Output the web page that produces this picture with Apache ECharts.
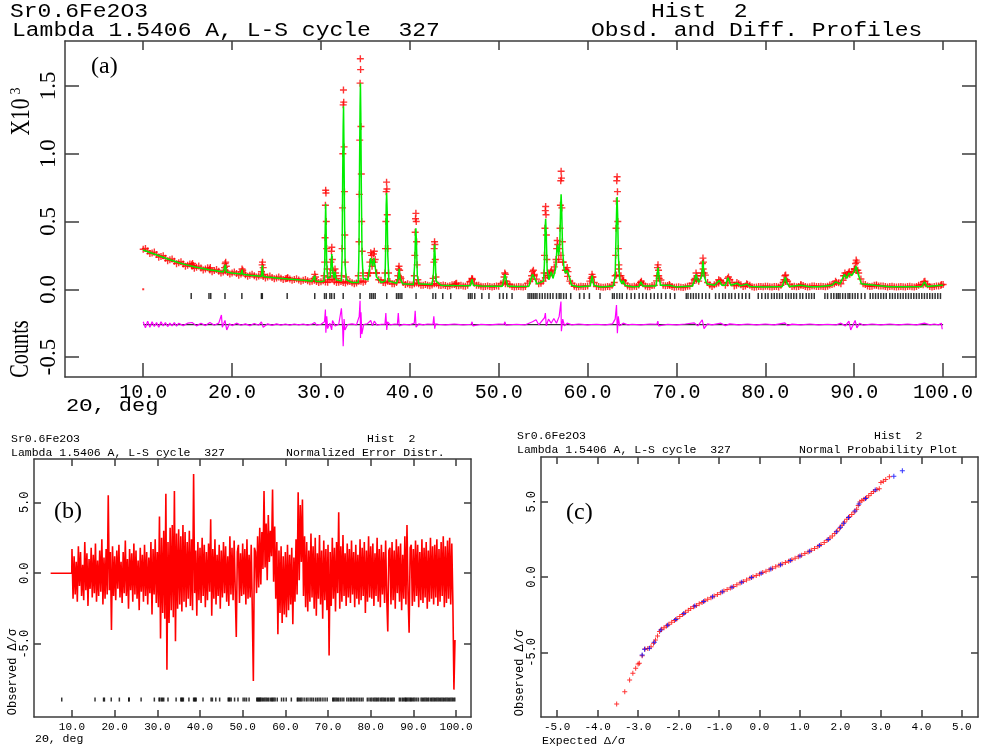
<!DOCTYPE html>
<html>
<head>
<meta charset="utf-8">
<title>Sr0.6Fe2O3 - GSAS refinement plots</title>
<script src="https://cdn.jsdelivr.net/npm/echarts@6/dist/echarts.min.js"></script>
<style>
html, body { margin: 0; padding: 0; background: #fff; }
#chart { width: 989px; height: 748px; }
</style>
</head>
<body>
<div id="chart"></div>
<script>
// ---- panel (a): observed / calculated / difference profiles ----
// observed background band, 10.0 .. 100.0 deg, every 0.5 deg
const obsStart = 10, obsStep = 0.5;
const bgObs = [
  0.295,0.282,0.268,0.256,0.242,0.228,0.218,0.206,0.196,0.186,
  0.178,0.170,0.163,0.156,0.150,0.143,0.138,0.133,0.128,0.124,
  0.120,0.116,0.112,0.108,0.104,0.100,0.097,0.094,0.090,0.087,
  0.084,0.081,0.078,0.075,0.072,0.069,0.066,0.063,0.060,0.058,
  0.056,0.054,0.070,0.060,0.052,0.050,0.055,0.048,0.046,0.060,
  0.060,0.120,0.200,0.070,0.050,0.060,0.040,0.050,0.080,0.035,
  0.033,0.040,0.040,0.030,0.030,0.032,0.040,0.028,0.027,0.026,
  0.035,0.026,0.025,0.030,0.070,0.030,0.022,0.021,0.021,0.020,
  0.022,0.050,0.040,0.020,0.018,0.018,0.020,0.060,0.100,0.040,
  0.060,0.100,0.120,0.200,0.250,0.140,0.060,0.022,0.018,0.020,
  0.025,0.090,0.020,0.017,0.016,0.018,0.050,0.150,0.060,0.025,
  0.018,0.020,0.050,0.025,0.018,0.030,0.100,0.030,0.028,0.020,
  0.016,0.015,0.016,0.025,0.070,0.060,0.150,0.050,0.020,0.040,
  0.060,0.030,0.070,0.025,0.040,0.020,0.035,0.018,0.016,0.020,
  0.022,0.018,0.020,0.017,0.050,0.060,0.020,0.018,0.030,0.020,
  0.018,0.025,0.020,0.020,0.022,0.035,0.050,0.040,0.100,0.110,
  0.150,0.120,0.040,0.025,0.022,0.030,0.025,0.020,0.020,0.019,
  0.018,0.018,0.020,0.019,0.020,0.035,0.040,0.020,0.020,0.025,
  0.035
];
// in-between observed points, 10.25 .. 99.75 deg (the scatter of the band)
const obsStart2 = 10.25;
const bgObs2 = [
  0.301,0.263,0.274,0.237,0.247,0.211,0.224,0.189,0.203,0.170,
  0.186,0.155,0.171,0.142,0.158,0.130,0.146,0.120,0.136,0.112,
  0.128,0.104,0.120,0.096,0.111,0.090,0.104,0.084,0.097,0.077,
  0.090,0.072,0.084,0.066,0.078,0.060,0.072,0.055,0.066,0.050,
  0.062,0.052,0.072,0.050,0.058,0.046,0.058,0.041,0.060,0.052,
  0.100,0.170,0.120,0.066,0.048,0.057,0.040,0.070,0.050,0.040,
  0.032,0.046,0.030,0.035,0.026,0.041,0.029,0.032,0.022,0.034,
  0.026,0.030,0.023,0.055,0.045,0.030,0.018,0.025,0.017,0.024,
  0.040,0.040,0.034,0.016,0.021,0.016,0.045,0.075,0.075,0.045,
  0.085,0.105,0.165,0.220,0.200,0.095,0.045,0.017,0.022,0.020,
  0.060,0.050,0.021,0.014,0.020,0.030,0.105,0.100,0.045,0.019,
  0.022,0.031,0.040,0.018,0.027,0.062,0.068,0.026,0.027,0.015,
  0.018,0.013,0.023,0.044,0.068,0.100,0.104,0.031,0.033,0.047,
  0.048,0.046,0.051,0.029,0.033,0.024,0.029,0.014,0.021,0.018,
  0.023,0.016,0.021,0.030,0.058,0.036,0.022,0.021,0.028,0.016,
  0.024,0.020,0.023,0.018,0.031,0.040,0.048,0.067,0.108,0.127,
  0.138,0.076,0.035,0.021,0.029,0.024,0.025,0.017,0.022,0.016,
  0.020,0.016,0.022,0.017,0.030,0.034,0.033,0.017,0.025,0.027
];
// observed points on the Bragg peaks [2theta, counts x10^3]
const peakObs = [
  [15.45,0.18],[15.55,0.19],[15.65,0.175],[17.45,0.15],[17.55,0.16],
  [19.15,0.16],[19.22,0.19],[19.28,0.2],[19.35,0.17],
  [21.05,0.13],[21.12,0.15],[21.2,0.14],
  [23.3,0.13],[23.38,0.18],[23.42,0.2],[23.5,0.16],[23.58,0.11],
  [26.15,0.08],[26.25,0.085],[29.22,0.08],[29.3,0.11],[29.38,0.09],
  [30.35,0.1],[30.42,0.2],[30.46,0.38],[30.5,0.62],[30.53,0.73],[30.56,0.71],[30.6,0.5],[30.64,0.3],[30.7,0.15],[30.78,0.09],
  [31.05,0.12],[31.12,0.2],[31.18,0.28],[31.22,0.31],[31.28,0.22],[31.35,0.14],
  [31.5,0.1],[31.58,0.15],[31.65,0.12],[31.75,0.08],
  [32.3,0.1],[32.38,0.3],[32.42,0.6],[32.46,1.0],[32.5,1.36],[32.53,1.47],[32.56,1.38],[32.6,1.05],[32.64,0.72],[32.68,0.4],[32.74,0.2],[32.82,0.09],
  [34.2,0.1],[34.28,0.35],[34.32,0.7],[34.36,1.1],[34.4,1.52],[34.43,1.7],[34.46,1.62],[34.5,1.2],[34.54,0.85],[34.58,0.5],[34.64,0.28],[34.72,0.12],
  [35.4,0.12],[35.5,0.2],[35.6,0.27],[35.7,0.25],[35.8,0.2],[35.9,0.26],[36.0,0.28],[36.1,0.22],[36.25,0.12],
  [37.2,0.12],[37.26,0.3],[37.3,0.5],[37.34,0.72],[37.38,0.79],[37.42,0.74],[37.46,0.55],[37.52,0.3],[37.6,0.12],
  [38.65,0.1],[38.72,0.15],[38.78,0.17],[38.85,0.14],[38.95,0.09],
  [40.5,0.1],[40.56,0.25],[40.6,0.42],[40.64,0.52],[40.68,0.56],[40.72,0.5],[40.76,0.35],[40.82,0.18],[40.9,0.07],
  [42.62,0.08],[42.7,0.2],[42.74,0.3],[42.78,0.35],[42.82,0.33],[42.86,0.22],[42.94,0.09],
  [45.15,0.04],[45.25,0.045],[46.9,0.06],[46.98,0.08],[47.05,0.075],
  [50.6,0.09],[50.68,0.12],[50.75,0.11],[50.85,0.06],
  [53.7,0.1],[53.8,0.13],[53.9,0.14],[54.0,0.11],
  [55.1,0.12],[55.15,0.25],[55.2,0.45],[55.24,0.58],[55.28,0.61],[55.32,0.55],[55.36,0.4],[55.42,0.22],[55.5,0.12],
  [55.85,0.13],[55.95,0.14],[56.45,0.22],[56.52,0.3],[56.58,0.36],[56.64,0.33],
  [56.85,0.3],[56.9,0.45],[56.94,0.62],[56.98,0.8],[57.02,0.87],[57.06,0.82],[57.1,0.6],[57.16,0.35],[57.24,0.2],
  [57.6,0.14],[57.7,0.16],[57.8,0.13],[60.4,0.08],[60.5,0.11],[60.6,0.09],
  [63.1,0.1],[63.16,0.25],[63.2,0.45],[63.24,0.65],[63.28,0.8],[63.32,0.83],[63.36,0.72],[63.4,0.5],[63.46,0.3],[63.52,0.18],[63.6,0.1],
  [63.95,0.07],[64.05,0.065],[65.95,0.05],[66.05,0.06],
  [67.8,0.1],[67.86,0.16],[67.92,0.18],[67.98,0.14],[68.06,0.08],[69.2,0.035],
  [72.1,0.08],[72.2,0.12],[72.3,0.1],[72.85,0.12],[72.92,0.19],[72.98,0.23],[73.04,0.2],[73.12,0.12],
  [74.75,0.07],[74.9,0.065],[75.75,0.08],[75.85,0.09],[76.8,0.05],[77.9,0.04],
  [82.1,0.07],[82.2,0.1],[82.28,0.105],[82.36,0.07],[84.0,0.035],[87.9,0.06],
  [88.8,0.1],[88.95,0.12],[89.35,0.12],[89.45,0.13],
  [90.05,0.15],[90.15,0.19],[90.22,0.215],[90.3,0.2],[90.4,0.14],
  [92.5,0.032],[97.85,0.055],[97.95,0.06],[99.8,0.035]
];
const strayObs = [[10.0, 0.0]];
// calculated profile (green)
const calcPts = [
  [10,0.29],[11,0.266],[12,0.242],[13,0.218],[14,0.196],[15,0.178],[15.4,0.171],[15.5,0.185],[15.62,0.168],[16,0.163],
  [17,0.15],[17.4,0.144],[17.5,0.155],[17.6,0.142],[18,0.138],[19,0.128],[19.15,0.128],[19.25,0.182],[19.35,0.127],[20,0.12],
  [21,0.112],[21.05,0.111],[21.12,0.145],[21.2,0.11],[22,0.104],[23,0.097],[23.3,0.096],[23.4,0.176],[23.5,0.094],[24,0.09],
  [25,0.084],[26,0.078],[26.15,0.077],[26.22,0.083],[26.3,0.076],[27,0.072],[28,0.066],[29,0.06],[29.22,0.06],[29.3,0.1],
  [29.38,0.059],[30,0.056],[30.35,0.06],[30.42,0.18],[30.48,0.45],[30.53,0.63],[30.58,0.45],[30.64,0.2],[30.75,0.08],
  [31.05,0.09],[31.15,0.2],[31.22,0.26],[31.3,0.15],[31.45,0.08],[31.58,0.13],[31.7,0.07],
  [32.3,0.06],[32.38,0.25],[32.44,0.8],[32.5,1.2],[32.54,1.35],[32.58,1.1],[32.64,0.6],[32.72,0.18],[32.85,0.07],[33.5,0.05],
  [34.2,0.05],[34.28,0.3],[34.34,0.9],[34.4,1.35],[34.44,1.52],[34.48,1.3],[34.54,0.75],[34.62,0.25],[34.75,0.08],
  [35.3,0.07],[35.5,0.17],[35.6,0.23],[35.72,0.2],[35.82,0.17],[35.95,0.23],[36.05,0.19],[36.25,0.09],[36.8,0.05],
  [37.2,0.06],[37.28,0.3],[37.34,0.62],[37.39,0.71],[37.44,0.6],[37.52,0.25],[37.65,0.06],
  [38.5,0.045],[38.7,0.08],[38.8,0.15],[38.9,0.08],[39.2,0.04],
  [40.4,0.035],[40.56,0.2],[40.63,0.4],[40.68,0.45],[40.74,0.35],[40.84,0.1],[41,0.04],
  [42.5,0.035],[42.66,0.12],[42.74,0.28],[42.79,0.33],[42.85,0.24],[42.95,0.06],[43.5,0.03],[44,0.028],
  [45.1,0.027],[45.2,0.04],[45.3,0.027],[46.8,0.026],[46.98,0.075],[47.15,0.03],[48,0.024],[49,0.022],
  [50.4,0.022],[50.6,0.08],[50.7,0.11],[50.8,0.08],[51,0.025],[52,0.02],
  [53.4,0.022],[53.6,0.07],[53.8,0.11],[53.9,0.12],[54.05,0.08],[54.3,0.04],
  [55.05,0.06],[55.15,0.2],[55.22,0.45],[55.28,0.52],[55.34,0.42],[55.45,0.14],[55.65,0.07],[55.9,0.13],[56.1,0.08],
  [56.4,0.15],[56.55,0.3],[56.62,0.33],[56.75,0.25],[56.88,0.35],[56.96,0.6],[57.02,0.7],[57.08,0.6],[57.18,0.3],
  [57.35,0.15],[57.5,0.12],[57.7,0.14],[57.9,0.1],[58.2,0.03],[59,0.018],
  [60.3,0.025],[60.5,0.1],[60.7,0.03],[61.5,0.017],[62.9,0.025],
  [63.1,0.1],[63.2,0.4],[63.27,0.6],[63.32,0.68],[63.38,0.55],[63.46,0.25],[63.6,0.08],[63.85,0.04],[64.0,0.065],[64.2,0.03],
  [65,0.018],[65.8,0.02],[66.0,0.055],[66.2,0.025],[67.7,0.025],[67.85,0.12],[67.93,0.16],[68.02,0.1],[68.2,0.03],[69.2,0.03],
  [70,0.016],[71.8,0.025],[72.05,0.07],[72.2,0.11],[72.35,0.07],[72.5,0.05],[72.85,0.1],[72.98,0.21],[73.1,0.1],[73.4,0.04],
  [74.3,0.03],[74.8,0.065],[75.1,0.03],[75.5,0.03],[75.8,0.085],[76.1,0.03],[76.8,0.045],[77.2,0.025],[77.9,0.038],[78.3,0.02],
  [80,0.017],[81.9,0.02],[82.1,0.06],[82.25,0.09],[82.4,0.05],[82.7,0.02],[84,0.03],[85,0.018],[86,0.019],
  [87.5,0.03],[87.9,0.055],[88.4,0.04],[88.9,0.11],[89.15,0.08],[89.4,0.12],[89.7,0.1],[90.0,0.13],[90.2,0.17],[90.4,0.12],
  [90.8,0.04],[92.5,0.028],[94,0.018],[96,0.019],[97.6,0.02],[97.9,0.055],[98.2,0.02],[99.8,0.03],[100,0.03]
];
// difference curve (obs - calc), plotted with an offset
const diffOffset = -0.26;
const diffPts = [
  [10,-0.24],[10.25,-0.285],[10.5,-0.235],[10.75,-0.28],[11,-0.24],[11.25,-0.275],[11.5,-0.245],[11.75,-0.28],[12,-0.24],
  [12.25,-0.27],[12.5,-0.245],[12.75,-0.275],[13,-0.25],[13.25,-0.27],[13.5,-0.245],[13.75,-0.272],[14,-0.25],[14.5,-0.268],
  [15,-0.25],[15.5,-0.245],[16,-0.27],[16.5,-0.25],[17,-0.268],[17.5,-0.245],[18,-0.265],[18.5,-0.25],[18.7,-0.258],[18.8,-0.19],
  [18.9,-0.28],[19.2,-0.23],[19.4,-0.3],[19.7,-0.255],[20,-0.268],[20.5,-0.25],[21,-0.265],[21.5,-0.255],[22,-0.268],[22.5,-0.252],
  [23,-0.265],[23.3,-0.24],[23.5,-0.28],[24,-0.255],[24.5,-0.266],[25,-0.255],[25.5,-0.264],[26,-0.256],[26.5,-0.264],[27,-0.256],
  [27.5,-0.263],[28,-0.256],[28.5,-0.264],[29,-0.256],[29.3,-0.245],[29.5,-0.265],[30,-0.258],[30.4,-0.24],[30.5,-0.15],[30.55,-0.32],
  [30.65,-0.2],[30.75,-0.29],[31.0,-0.25],[31.2,-0.3],[31.3,-0.23],[31.6,-0.27],[32,-0.258],[32.3,-0.14],[32.45,-0.3],[32.5,-0.42],
  [32.6,-0.22],[32.7,-0.3],[33,-0.26],[33.5,-0.255],[34,-0.262],[34.3,-0.2],[34.4,-0.084],[34.45,-0.36],[34.5,-0.17],[34.6,-0.33],
  [34.8,-0.26],[35.2,-0.255],[35.6,-0.23],[35.8,-0.27],[36.0,-0.235],[36.3,-0.265],[36.8,-0.258],[37.2,-0.258],[37.3,-0.175],
  [37.4,-0.3],[37.5,-0.24],[37.8,-0.262],[38.3,-0.256],[38.6,-0.258],[38.7,-0.175],[38.8,-0.27],[39.3,-0.258],[40,-0.262],
  [40.5,-0.25],[40.6,-0.158],[40.7,-0.28],[41,-0.255],[41.5,-0.262],[42,-0.256],[42.6,-0.258],[42.7,-0.2],[42.8,-0.29],[42.9,-0.255],
  [43.2,-0.258],[44,-0.262],[45,-0.256],[46,-0.262],[46.9,-0.258],[47,-0.24],[47.1,-0.27],[48,-0.258],[49,-0.262],[50,-0.257],
  [50.6,-0.258],[50.7,-0.24],[50.8,-0.265],[52,-0.258],[53,-0.262],[53.8,-0.24],[54.2,-0.225],[54.5,-0.262],[55.15,-0.21],
  [55.25,-0.175],[55.35,-0.27],[55.6,-0.22],[55.9,-0.25],[56.2,-0.215],[56.5,-0.25],[56.8,-0.2],[57.0,-0.09],[57.05,-0.31],
  [57.2,-0.22],[57.4,-0.27],[57.7,-0.25],[58.2,-0.262],[59,-0.256],[60,-0.262],[60.4,-0.26],[60.5,-0.248],[60.6,-0.264],[61,-0.258],
  [62,-0.262],[62.8,-0.255],[63.1,-0.22],[63.25,-0.116],[63.35,-0.325],[63.45,-0.2],[63.6,-0.27],[64,-0.25],[64.5,-0.262],
  [65,-0.258],[66,-0.262],[67,-0.256],[67.8,-0.258],[67.9,-0.235],[68.0,-0.27],[69,-0.258],[70,-0.262],[71,-0.256],[72,-0.248],
  [72.4,-0.27],[72.9,-0.225],[73.1,-0.29],[73.5,-0.255],[74,-0.262],[75,-0.25],[75.5,-0.268],[76,-0.255],[77,-0.262],[78,-0.256],
  [79,-0.262],[80,-0.256],[81,-0.262],[82.2,-0.248],[82.5,-0.268],[83,-0.257],[84,-0.262],[85,-0.256],[86,-0.262],[87,-0.258],
  [88,-0.262],[88.5,-0.25],[89,-0.27],[89.4,-0.235],[89.6,-0.3],[90.1,-0.23],[90.3,-0.285],[90.6,-0.25],[91,-0.264],[92,-0.256],
  [93,-0.262],[94,-0.256],[95,-0.262],[96,-0.256],[97,-0.262],[97.9,-0.25],[98.5,-0.262],[99,-0.256],[99.5,-0.262],[99.8,-0.25],
  [99.9,-0.295]
];
// reflection positions (2theta)
const refl = [
  15.4,17.4,17.6,19.2,21.1,23.3,23.4,26.2,29.3,30.4,30.6,31.0,31.2,31.5,32.5,34.4,35.5,35.7,35.9,36.1,
  37.4,38.5,38.7,38.9,39.1,40.7,42.6,42.9,43.7,44.6,46.6,46.8,47.0,47.3,48.1,48.9,50.1,50.5,50.9,51.5,
  53.3,53.5,53.7,53.9,54.1,54.3,54.6,54.9,55.2,55.5,55.8,56.1,56.5,56.8,57.0,57.3,57.6,58.1,59.1,59.6,
  60.2,61.4,62.8,63.0,63.3,63.6,63.9,64.4,64.9,65.3,65.8,66.2,66.6,67.1,67.5,67.9,68.3,68.8,69.3,69.8,
  71.1,71.3,71.6,71.9,72.2,72.5,72.9,73.3,73.7,74.4,74.8,75.2,75.5,75.9,76.2,76.6,77.0,77.4,77.8,78.2,
  79.2,79.6,80.0,80.3,80.7,81.0,81.3,81.6,81.9,82.3,82.6,82.9,83.2,83.5,83.9,84.2,84.6,84.9,85.2,85.5,
  86.7,87.0,87.4,87.7,88.0,88.2,88.4,88.7,89.0,89.3,89.5,89.8,90.1,90.4,90.8,91.2,91.8,92.1,92.4,92.7,
  93.0,93.3,93.6,94.0,94.3,94.6,94.9,95.2,95.5,95.8,96.1,96.4,96.7,97.0,97.3,97.6,97.9,98.2,98.5,98.8,
  99.1,99.4,99.7
];
const reflExtraB = [7.6];
const reflYa = -0.05, reflYb = -8.9;

// ---- panel (b): normalized error distribution, 10.0 .. 99.75 every 0.25 deg ----
const errStart = 10, errStep = 0.25;
const errLead = [[5.0, 0], [9.95, 0]];
const errNorm = [
  1.7,-1.8,1.2,-1.5,0.8,-2.0,1.9,-0.9,1.5,-1.6,0.6,-1.9,2.2,-1.2,1.4,-2.3,1.0,-1.1,1.8,-1.7,
  1.3,-1.4,2.1,-2.0,0.9,-1.6,1.6,-1.3,2.4,-2.2,1.1,-1.8,1.7,-1.5,5.5,-1.2,1.5,-4.0,1.9,-1.6,
  1.2,-1.9,1.6,-1.1,2.0,-1.7,0.8,-2.1,1.5,-1.4,2.3,-1.6,1.0,-2.5,1.7,-1.2,1.4,-2.0,2.1,-1.5,
  1.6,-1.8,0.9,-2.6,1.8,-1.3,1.3,-2.0,2.0,-1.6,1.5,-2.2,1.1,-1.4,2.2,-2.9,1.7,-1.5,2.4,-2.1,
  1.5,-2.4,4.0,-4.6,2.5,-2.8,3.0,-3.2,5.6,-6.8,2.2,-3.5,3.2,-2.6,3.4,-3.1,5.8,-4.8,2.8,-2.5,
  3.1,-2.2,2.6,-2.7,3.4,-2.0,2.9,-2.4,2.2,-1.8,3.0,-2.3,2.4,-2.6,7.0,-1.4,1.6,-3.0,2.2,-1.9,
  1.8,-2.1,2.5,-1.6,2.0,-2.4,1.5,-1.9,2.1,-1.3,3.8,-3.0,1.7,-1.8,2.4,-2.2,1.3,-1.6,2.0,-2.5,
  1.6,-1.7,2.2,-1.4,1.9,-2.0,1.2,-2.3,2.6,-1.5,1.8,-1.9,2.3,-1.2,-4.5,1.5,2.0,-2.1,1.4,-1.6,
  2.1,-1.5,1.7,-2.2,2.4,-1.8,1.3,-1.7,2.0,-2.6,-7.6,1.8,1.5,-1.4,2.6,-1.0,3.2,-0.8,2.9,0.3,
  5.8,0.4,3.5,-0.5,4.1,0.8,3.0,1.2,5.9,-0.6,3.3,-1.8,2.2,-4.3,1.6,-2.8,1.9,-3.5,1.2,-2.9,
  1.5,-3.1,2.0,-2.6,1.3,-2.2,1.8,-3.6,1.1,-2.0,2.4,-1.5,5.7,-0.5,4.8,0.8,5.2,-1.6,2.6,-2.4,
  2.2,-2.7,1.6,-2.0,2.8,-1.7,1.9,-2.5,2.5,-3.0,1.4,-1.8,2.7,-2.2,1.6,-3.2,2.3,-1.9,1.7,-2.6,
  2.0,-5.8,1.5,-2.3,2.5,-1.8,1.8,-2.7,2.2,-1.4,4.3,-2.5,1.9,-2.0,2.7,-1.6,1.4,-2.3,2.1,-1.7,
  1.7,-2.1,2.3,-1.5,1.5,-2.4,2.0,-1.8,1.3,-2.2,2.4,-1.9,1.8,-1.6,2.2,-2.8,1.6,-2.0,2.6,-1.7,
  1.9,-1.8,2.1,-2.3,1.4,-1.6,2.5,-2.0,1.7,-2.4,2.0,-1.5,1.5,-2.1,2.3,-1.7,-4.1,1.6,1.8,-2.2,
  2.2,-1.9,1.6,-2.5,2.4,-1.4,1.9,-2.0,2.1,-2.6,1.3,-1.8,2.6,-2.2,3.4,-1.5,-4.2,1.8,2.0,-2.3,
  1.7,-2.0,2.3,-1.6,2.0,-2.4,1.5,-1.9,2.4,-2.1,1.8,-1.7,2.2,-2.5,1.6,-2.0,2.5,-1.8,1.9,-2.2,
  2.0,-1.7,2.4,-2.3,1.7,-2.0,2.2,-1.6,2.6,-2.4,1.9,-2.1,2.3,-1.8,2.5,-2.2,2.1,-2.0,-8.2,-4.7
];

// ---- panel (c): normal probability plot [expected, observed] ----
const probRed = [
  [-3.53,-8.43],[-3.33,-7.61],[-3.21,-6.84],[-3.13,-6.39],[-3.06,-6.06],[-3.0,-5.77],[-2.97,-5.73],[-2.9,-5.22],[-2.83,-4.78],[-2.76,-4.75],
  [-2.68,-4.62],[-2.62,-4.4],[-2.57,-4.18],[-2.52,-3.92],[-2.47,-3.62],[-2.42,-3.46],[-2.36,-3.36],[-2.3,-3.25],[-2.24,-3.13],[-2.17,-3.0],
  [-2.1,-2.88],[-2.04,-2.76],[-1.97,-2.62],[-1.9,-2.48],[-1.83,-2.34],[-1.76,-2.2],[-1.7,-2.08],[-1.63,-1.97],[-1.56,-1.88],[-1.49,-1.78],
  [-1.42,-1.69],[-1.35,-1.58],[-1.28,-1.47],[-1.2,-1.37],[-1.12,-1.26],[-1.04,-1.15],[-0.96,-1.04],[-0.88,-0.93],[-0.8,-0.83],[-0.72,-0.72],
  [-0.64,-0.62],[-0.56,-0.51],[-0.48,-0.4],[-0.4,-0.3],[-0.32,-0.19],[-0.24,-0.08],[-0.16,0.02],[-0.08,0.11],[0.0,0.2],[0.08,0.3],
  [0.16,0.39],[0.24,0.49],[0.32,0.58],[0.4,0.68],[0.48,0.78],[0.56,0.87],[0.64,0.96],[0.72,1.05],[0.8,1.15],[0.88,1.25],
  [0.96,1.35],[1.04,1.45],[1.12,1.56],[1.2,1.67],[1.28,1.78],[1.36,1.9],[1.44,2.02],[1.52,2.16],[1.6,2.3],[1.67,2.44],
  [1.74,2.59],[1.8,2.73],[1.86,2.89],[1.92,3.06],[1.98,3.24],[2.04,3.44],[2.1,3.65],[2.16,3.84],[2.22,4.0],[2.28,4.15],
  [2.34,4.32],[2.4,4.5],[2.44,4.75],[2.48,4.98],[2.53,5.08],[2.58,5.16],[2.64,5.27],[2.7,5.4],[2.76,5.55],[2.82,5.68],
  [2.9,5.82],[2.96,5.86],[3.0,6.28],[3.06,6.36],[3.12,6.48],[3.21,6.66]
];
const probBlue = [
  [-2.9,-5.18],[-2.84,-4.8],[-2.72,-4.73],[-2.6,-4.32],[-2.44,-3.52],[-2.27,-3.2],[-2.07,-2.82],[-1.87,-2.42],[-1.6,-1.92],[-1.38,-1.63],
  [-1.16,-1.31],[-0.92,-0.98],[-0.68,-0.67],[-0.44,-0.35],[-0.2,-0.03],[0.04,0.25],[0.28,0.54],[0.52,0.82],[0.76,1.1],[1.0,1.4],
  [1.24,1.72],[1.48,2.09],[1.7,2.5],[1.9,3.0],[2.0,3.3],[2.08,3.58],[2.2,3.95],[2.36,4.38],[2.46,4.85],[2.62,5.22],
  [2.86,5.78],[3.32,6.7],[3.53,7.06]
];

// tick positions
const ticks2theta = [10,20,30,40,50,60,70,80,90,100];
const ticksYa = [-0.5,0,0.5,1.0,1.5];
const ticksYbc = [-5,0,5];
const ticksXc = [-5,-4,-3,-2,-1,0,1,2,3,4,5];

const MONO = '"Liberation Mono", "DejaVu Sans Mono", monospace';
const SERIF = '"Liberation Serif", "DejaVu Serif", serif';
const AXC = '#3c3c3c';
const PLUS = 'path://M2,0H3V2H5V3H3V5H2V3H0V2H2Z';

const xAxes = [], yAxes = [];
function addBox(g, xr, yr, xt, yt, o) {
  const line = { show: true, onZero: false, lineStyle: { color: AXC, width: 1.5 } };
  const fmt = v => v.toFixed(1);
  xAxes.push({
    gridIndex: g, type: 'value', position: 'bottom', min: xr[0], max: xr[1],
    axisLine: line, splitLine: { show: false },
    axisTick: { show: true, inside: true, length: o.tickB, customValues: xt, lineStyle: { color: AXC, width: 1.5 } },
    axisLabel: { show: true, customValues: xt, formatter: fmt, color: '#000', fontFamily: MONO, fontSize: o.xFont, margin: o.xMargin }
  });
  xAxes.push({
    gridIndex: g, type: 'value', position: 'top', min: xr[0], max: xr[1],
    axisLine: line, splitLine: { show: false },
    axisTick: { show: true, inside: true, length: o.tickT, customValues: xt, lineStyle: { color: AXC, width: 1.5 } },
    axisLabel: { show: false }
  });
  yAxes.push({
    gridIndex: g, type: 'value', position: 'left', min: yr[0], max: yr[1],
    axisLine: line, splitLine: { show: false },
    axisTick: { show: true, inside: true, length: o.tickL, customValues: yt, lineStyle: { color: AXC, width: 1.5 } },
    axisLabel: { show: true, customValues: yt, formatter: fmt, rotate: 90, color: '#000', fontFamily: o.yFamily, fontSize: o.yFont, margin: o.yMargin }
  });
  yAxes.push({
    gridIndex: g, type: 'value', position: 'right', min: yr[0], max: yr[1],
    axisLine: line, splitLine: { show: false },
    axisTick: { show: true, inside: true, length: o.tickL, customValues: yt, lineStyle: { color: AXC, width: 1.5 } },
    axisLabel: { show: false }
  });
}
addBox(0, [1.2, 103.7], [-0.647, 1.831], ticks2theta, ticksYa,
  { tickB: 14, tickT: 9, tickL: 14, xFont: 20, xMargin: 6, yFamily: SERIF, yFont: 23, yMargin: 5 });
addBox(1, [1.1, 103.5], [-10.13, 8.05], ticks2theta, ticksYbc,
  { tickB: 7, tickT: 7, tickL: 7, xFont: 11, xMargin: 5, yFamily: MONO, yFont: 12, yMargin: 3 });
addBox(2, [-5.4, 5.4], [-9.29, 7.97], ticksXc, ticksYbc,
  { tickB: 7, tickT: 7, tickL: 7, xFont: 11, xMargin: 5, yFamily: MONO, yFont: 12, yMargin: 3 });

const obsData = bgObs.map((v, i) => [obsStart + i * obsStep, v])
  .concat(bgObs2.map((v, i) => [obsStart2 + i * obsStep, v]))
  .concat(peakObs);
const errData = errLead.concat(errNorm.map((v, i) => [errStart + i * errStep, v]));
const diffZero = [[10, diffOffset], [100, diffOffset]];

function txt(x, y, s, font, extra) {
  return Object.assign({
    type: 'text', x: x, y: y, silent: true,
    style: { text: s, font: font, fill: '#000', align: 'left', verticalAlign: 'middle' }
  }, extra || {});
}
function vtxt(x, y, s, font, extra) {
  const t = txt(x, y, s, font, Object.assign({ rotation: Math.PI / 2 }, extra || {}));
  t.style.align = 'center';
  return t;
}
const HEAD = '23px ' + MONO, SMALL = '11.5px ' + MONO;
const graphics = [
  // panel (a)
  txt(10, 12, 'Sr0.6Fe2O3', HEAD, { scaleY: 0.85 }),
  txt(651, 12, 'Hist  2', HEAD, { scaleY: 0.85 }),
  txt(12, 31, 'Lambda 1.5406 A, L-S cycle  327', HEAD, { scaleY: 0.85 }),
  txt(591, 31, 'Obsd. and Diff. Profiles', HEAD, { scaleY: 0.85 }),
  vtxt(21.5, 117, 'X10', '27px ' + SERIF, { scaleX: 0.8 }),
  vtxt(16.5, 91, '3', '14px ' + SERIF),
  vtxt(21, 349, 'Counts', '27px ' + SERIF, { scaleX: 0.75 }),
  txt(66, 406, '2\u0398, deg', '22px ' + MONO, { scaleY: 0.85 }),
  txt(91, 67, '(a)', '24px ' + SERIF),
  // panel (b)
  txt(11, 439, 'Sr0.6Fe2O3', SMALL),
  txt(367, 439, 'Hist  2', SMALL),
  txt(11, 452.5, 'Lambda 1.5406 A, L-S cycle  327', SMALL),
  txt(286, 452.5, 'Normalized Error Distr.', SMALL),
  vtxt(13, 672, 'Observed \u0394/\u03c3', '12px ' + MONO),
  txt(35, 739, '2\u0398, deg', '11.5px ' + MONO),
  txt(54, 512, '(b)', '24px ' + SERIF),
  // panel (c)
  txt(517, 435.5, 'Sr0.6Fe2O3', SMALL),
  txt(874, 435.5, 'Hist  2', SMALL),
  txt(517, 449.5, 'Lambda 1.5406 A, L-S cycle  327', SMALL),
  txt(799, 449.5, 'Normal Probability Plot', SMALL),
  vtxt(520, 673, 'Observed \u0394/\u03c3', '12px ' + MONO),
  txt(542, 741, 'Expected \u0394/\u03c3', '11.5px ' + MONO),
  txt(566, 513, '(c)', '24px ' + SERIF)
];

const option = {
  backgroundColor: '#fff',
  animation: false,
  textStyle: { fontFamily: MONO },
  grid: [
    { left: 65, top: 41, width: 911, height: 336 },
    { left: 34, top: 459, width: 437, height: 258 },
    { left: 541, top: 457, width: 437, height: 260 }
  ],
  xAxis: xAxes,
  yAxis: yAxes,
  graphic: graphics,
  series: [
    // (a)
    { type: 'line', xAxisIndex: 0, yAxisIndex: 0, data: diffZero, symbol: 'none', lineStyle: { color: '#333', width: 1.2 }, z: 2 },
    { type: 'line', xAxisIndex: 0, yAxisIndex: 0, data: diffPts, symbol: 'none', lineStyle: { color: '#ff00ff', width: 1.2 }, z: 3 },
    { type: 'scatter', xAxisIndex: 0, yAxisIndex: 0, data: refl.map(v => [v, reflYa]), symbol: 'rect', symbolSize: [1.5, 6], itemStyle: { color: '#000' }, z: 3 },
    { type: 'scatter', xAxisIndex: 0, yAxisIndex: 0, data: obsData, symbol: PLUS, symbolSize: 7, itemStyle: { color: '#ff0000' }, z: 4 },
    { type: 'scatter', xAxisIndex: 0, yAxisIndex: 0, data: strayObs, symbol: 'rect', symbolSize: 2, itemStyle: { color: '#ff0000' }, z: 4 },
    { type: 'line', xAxisIndex: 0, yAxisIndex: 0, data: calcPts, symbol: 'none', lineStyle: { color: '#00ee00', width: 1.5 }, z: 5 },
    // (b)
    { type: 'line', xAxisIndex: 2, yAxisIndex: 2, data: errData, symbol: 'none', lineStyle: { color: '#ff0000', width: 1.6 }, z: 3 },
    { type: 'scatter', xAxisIndex: 2, yAxisIndex: 2, data: reflExtraB.concat(refl).map(v => [v, reflYb]), symbol: 'rect', symbolSize: [1.5, 4], itemStyle: { color: '#000' }, z: 3 },
    // (c)
    { type: 'scatter', xAxisIndex: 4, yAxisIndex: 4, data: probRed, symbol: PLUS, symbolSize: 5, itemStyle: { color: '#ff0000' }, z: 3 },
    { type: 'scatter', xAxisIndex: 4, yAxisIndex: 4, data: probBlue, symbol: PLUS, symbolSize: 5, itemStyle: { color: '#0000ff' }, z: 4 }
  ]
};

const chart = echarts.init(document.getElementById('chart'));
chart.setOption(option);
</script>
</body>
</html>
